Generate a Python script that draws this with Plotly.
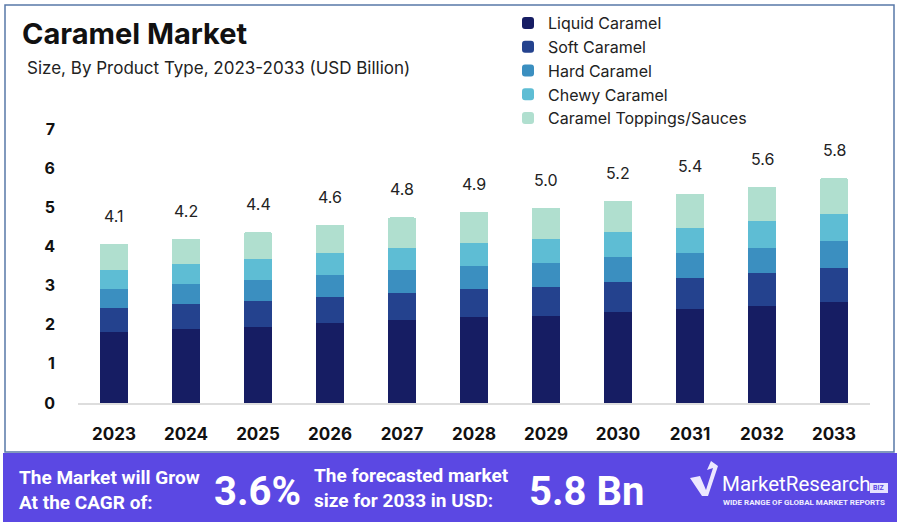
import plotly.graph_objects as go

years = ["2023", "2024", "2025", "2026", "2027", "2028", "2029", "2030", "2031", "2032", "2033"]
liquid = [1.82, 1.89, 1.95, 2.04, 2.12, 2.19, 2.23, 2.33, 2.40, 2.48, 2.59]
soft = [0.61, 0.63, 0.66, 0.68, 0.70, 0.72, 0.74, 0.77, 0.79, 0.84, 0.86]
hard = [0.49, 0.51, 0.53, 0.56, 0.58, 0.59, 0.61, 0.62, 0.65, 0.65, 0.69]
chewy = [0.49, 0.51, 0.53, 0.55, 0.57, 0.60, 0.61, 0.64, 0.64, 0.68, 0.70]
toppings = [0.66, 0.66, 0.70, 0.73, 0.77, 0.79, 0.80, 0.81, 0.87, 0.88, 0.91]
total_labels = ["4.1", "4.2", "4.4", "4.6", "4.8", "4.9", "5.0", "5.2", "5.4", "5.6", "5.8"]
series_names = ["Liquid Caramel", "Soft Caramel", "Hard Caramel", "Chewy Caramel", "Caramel Toppings/Sauces"]
series_values = [liquid, soft, hard, chewy, toppings]
colors = ["#161d63", "#24428e", "#3b8fc0", "#5ebdd4", "#b0dfcf"]

cagr_text = "3.6%"
market_text = "5.8 Bn"

W, H = 900, 528
L, R, T, B = 78, 30, 129, 125
PW = W - L - R
PH = H - T - B


def px(x):
    return (x - L) / PW


def py(y):
    return (H - B - y) / PH


fig = go.Figure()
for name, vals, col in zip(series_names, series_values, colors):
    fig.add_trace(go.Bar(x=years, y=vals, name=name, marker=dict(color=col, line=dict(width=0)),
                         width=0.4, hoverinfo="skip"))

totals = [sum(v) for v in zip(*series_values)]
annotations = []
for i, (tot, lab) in enumerate(zip(totals, total_labels)):
    annotations.append(dict(x=i, y=tot, xref="x", yref="y", text=lab, showarrow=False,
                            yanchor="bottom", yshift=16,
                            font=dict(family="Inter", size=16, color="#222222")))

# Title and subtitle
annotations.append(dict(x=px(20), y=py(33), xref="paper", yref="paper", text="<b>Caramel Market</b>",
                        showarrow=False, xanchor="left", yanchor="middle",
                        font=dict(family="Inter", size=29, color="#111111")))
annotations.append(dict(x=px(25), y=py(68), xref="paper", yref="paper",
                        text="Size, By Product Type, 2023-2033 (USD Billion)",
                        showarrow=False, xanchor="left", yanchor="middle",
                        font=dict(family="Inter", size=17, color="#222222")))

# Banner texts
annotations.append(dict(x=px(17), y=py(490), xref="paper", yref="paper",
                        text="<b>The Market will Grow<br>At the CAGR of:</b>", align="left",
                        showarrow=False, xanchor="left", yanchor="middle",
                        font=dict(family="Roboto", size=19, color="white")))
annotations.append(dict(x=px(212), y=py(491), xref="paper", yref="paper",
                        text="<b>" + cagr_text + "</b>",
                        showarrow=False, xanchor="left", yanchor="middle",
                        font=dict(family="Roboto", size=40, color="white")))
annotations.append(dict(x=px(312), y=py(488), xref="paper", yref="paper",
                        text="<b>The forecasted market<br>size for 2033 in USD:</b>", align="left",
                        showarrow=False, xanchor="left", yanchor="middle",
                        font=dict(family="Roboto", size=19, color="white")))
annotations.append(dict(x=px(527), y=py(491), xref="paper", yref="paper",
                        text="<b>" + market_text + "</b>",
                        showarrow=False, xanchor="left", yanchor="middle",
                        font=dict(family="Roboto", size=40, color="white")))
annotations.append(dict(x=px(720), y=py(484), xref="paper", yref="paper",
                        text="MarketResearch",
                        showarrow=False, xanchor="left", yanchor="middle",
                        font=dict(family="Roboto", size=20.5, color="white")))
annotations.append(dict(x=px(721), y=py(502), xref="paper", yref="paper",
                        text="<b>WIDE RANGE OF GLOBAL MARKET REPORTS</b>",
                        showarrow=False, xanchor="left", yanchor="middle",
                        font=dict(family="Roboto", size=8, color="#f0eeff")))
annotations.append(dict(x=px(879), y=py(488), xref="paper", yref="paper",
                        text="<b>BIZ</b>",
                        showarrow=False, xanchor="center", yanchor="middle",
                        font=dict(family="Roboto", size=7, color="#5b48e3")))

shapes = [
    # outer frame
    dict(type="rect", xref="paper", yref="paper", x0=px(5), x1=px(894), y0=py(452), y1=py(5),
         line=dict(color="#5878a8", width=1.5), fillcolor="rgba(0,0,0,0)", layer="below"),
    # banner
    dict(type="rect", xref="paper", yref="paper", x0=px(3), x1=px(897), y0=py(522), y1=py(453),
         line=dict(width=0), fillcolor="#5b48e3", layer="above"),
    # BIZ box
    dict(type="rect", xref="paper", yref="paper", x0=px(870), x1=px(888), y0=py(493), y1=py(483),
         line=dict(width=0), fillcolor="#e6e2ff", layer="above"),
    # logo check mark
    dict(type="path", xref="paper", yref="paper",
         path=(f"M {px(690)},{py(478)} L {px(700)},{py(476)} L {px(706)},{py(490)} "
               f"L {px(713)},{py(468)} L {px(707)},{py(470)} L {px(711)},{py(461)} L {px(718)},{py(466)} "
               f"L {px(708)},{py(496)} L {px(702)},{py(496)} Z"),
         line=dict(width=0), fillcolor="#ece8ff", layer="above"),
]

fig.update_layout(
    width=W, height=H,
    margin=dict(l=L, r=R, t=T, b=B, autoexpand=False),
    paper_bgcolor="white", plot_bgcolor="white",
    barmode="stack", barcornerradius=3,
    showlegend=True,
    legend=dict(x=px(508), y=py(6), xanchor="left", yanchor="top", traceorder="normal",
                font=dict(family="Inter", size=16, color="#222222"), bgcolor="rgba(0,0,0,0)",
                itemclick=False, itemdoubleclick=False, tracegroupgap=0),
    xaxis=dict(type="category", range=[-0.5, 10.5], showgrid=False, showline=True,
               linecolor="#dddddd", linewidth=1.5,
               ticks="", tickfont=dict(family="Inter", size=17, color="#111111", weight="bold"),
               ticklabelstandoff=15, fixedrange=True),
    yaxis=dict(range=[0, 7], dtick=1, showgrid=False, zeroline=False, showline=False, ticks="",
               tickfont=dict(family="Inter", size=16, color="#111111", weight="bold"),
               ticklabelstandoff=22, fixedrange=True),
    annotations=annotations,
    shapes=shapes,
)

fig.write_html("out.html", config={"displayModeBar": False},
               post_script="document.body.style.margin='0px';")
